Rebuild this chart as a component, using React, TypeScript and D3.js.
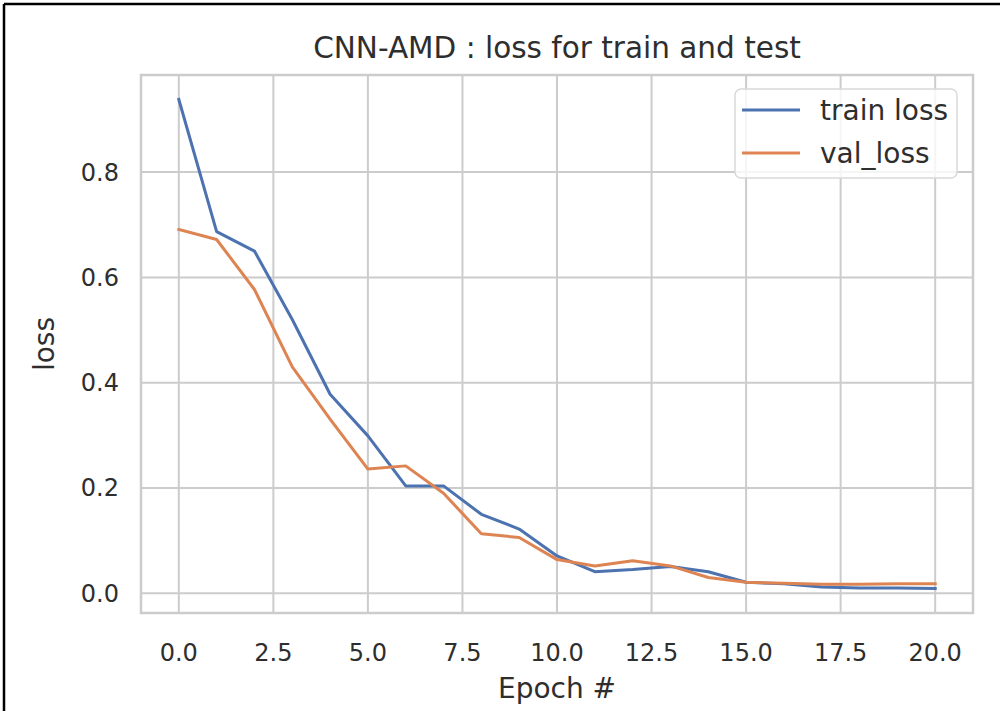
import React from "react";
import * as d3 from "d3";

const epochs = [0, 1, 2, 3, 4, 5, 6, 7, 8, 9, 10, 11, 12, 13, 14, 15, 16, 17, 18, 19, 20];
const trainLoss = [0.938, 0.687, 0.65, 0.52, 0.378, 0.299, 0.204, 0.204, 0.15, 0.122, 0.071, 0.041, 0.045, 0.051, 0.041, 0.021, 0.018, 0.012, 0.01, 0.01, 0.009];
const valLoss = [0.691, 0.672, 0.577, 0.43, 0.331, 0.236, 0.242, 0.19, 0.113, 0.106, 0.064, 0.052, 0.062, 0.052, 0.03, 0.021, 0.019, 0.017, 0.017, 0.018, 0.018];
const xTicks = [0, 2.5, 5, 7.5, 10, 12.5, 15, 17.5, 20];
const yTicks = [0, 0.2, 0.4, 0.6, 0.8];
const seriesNames = ["train loss", "val_loss"];
const seriesColors = ["#4c72b0", "#dd8452"];

const W = 1000;
const H = 711;
const plot = { left: 141, right: 973, top: 75, bottom: 613 };
const font = "'DejaVu Sans', sans-serif";
const textColor = "#2e2e2e";
const gridColor = "#cccccc";

export default function App() {
  const x = d3.scaleLinear().domain([-1, 21]).range([plot.left, plot.right]);

  // matplotlib-style 5% margins on y
  const all = [...trainLoss, ...valLoss];
  const [lo, hi] = d3.extent(all) as [number, number];
  const pad = (hi - lo) * 0.05;
  const y = d3.scaleLinear().domain([lo - pad, hi + pad]).range([plot.bottom, plot.top]);

  const line = d3
    .line<number>()
    .x((_, i) => x(epochs[i]))
    .y((d) => y(d));

  const series = [trainLoss, valLoss];
  const fmt = d3.format(".1f");

  const legend = { x: 735, y: 89, w: 222, h: 89 };

  return (
    <svg
      width={W}
      height={H}
      style={{ position: "absolute", left: 0, top: 0, background: "#fff" }}
      fontFamily={font}
    >
      <rect width={W} height={H} fill="#fff" />
      {/* outer frame (cropped screenshot) */}
      <line x1={4} x2={W} y1={4} y2={4} stroke="#000" strokeWidth={2.5} />
      <line x1={4} x2={4} y1={4} y2={H} stroke="#000" strokeWidth={2.5} />

      <text
        x={(plot.left + plot.right) / 2}
        y={58}
        textAnchor="middle"
        fontSize={29.5}
        fill={textColor}
      >
        CNN-AMD : loss for train and test
      </text>

      {/* grid */}
      {xTicks.map((t) => (
        <line key={"gx" + t} x1={x(t)} x2={x(t)} y1={plot.top} y2={plot.bottom} stroke={gridColor} strokeWidth={2} />
      ))}
      {yTicks.map((t) => (
        <line key={"gy" + t} x1={plot.left} x2={plot.right} y1={y(t)} y2={y(t)} stroke={gridColor} strokeWidth={2} />
      ))}
      <rect
        x={plot.left}
        y={plot.top}
        width={plot.right - plot.left}
        height={plot.bottom - plot.top}
        fill="none"
        stroke={gridColor}
        strokeWidth={2.5}
      />

      {/* lines */}
      {series.map((s, i) => (
        <path key={seriesNames[i]} d={line(s) || ""} fill="none" stroke={seriesColors[i]} strokeWidth={3} strokeLinejoin="round" strokeLinecap="square" />
      ))}

      {/* tick labels */}
      {xTicks.map((t) => (
        <text key={"tx" + t} x={x(t)} y={661} textAnchor="middle" fontSize={24} fill={textColor}>
          {fmt(t)}
        </text>
      ))}
      {yTicks.map((t) => (
        <text key={"ty" + t} x={119} y={y(t)} dy="0.35em" textAnchor="end" fontSize={24} fill={textColor}>
          {fmt(t)}
        </text>
      ))}

      {/* axis labels */}
      <text x={(plot.left + plot.right) / 2} y={698} textAnchor="middle" fontSize={28} fill={textColor}>
        Epoch #
      </text>
      <text
        transform={`translate(54,${(plot.top + plot.bottom) / 2}) rotate(-90)`}
        textAnchor="middle"
        fontSize={28}
        fill={textColor}
      >
        loss
      </text>

      {/* legend */}
      <rect
        x={legend.x}
        y={legend.y}
        width={legend.w}
        height={legend.h}
        rx={6}
        fill="#fff"
        fillOpacity={0.8}
        stroke="#d9d9d9"
        strokeWidth={1.5}
      />
      {seriesNames.map((name, i) => {
        const cy = 110 + i * 43;
        return (
          <g key={"lg" + name}>
            <line x1={742} x2={800} y1={cy} y2={cy} stroke={seriesColors[i]} strokeWidth={3} />
            <text x={820} y={cy} dy="0.35em" fontSize={28} fill={textColor}>
              {name}
            </text>
          </g>
        );
      })}
    </svg>
  );
}
